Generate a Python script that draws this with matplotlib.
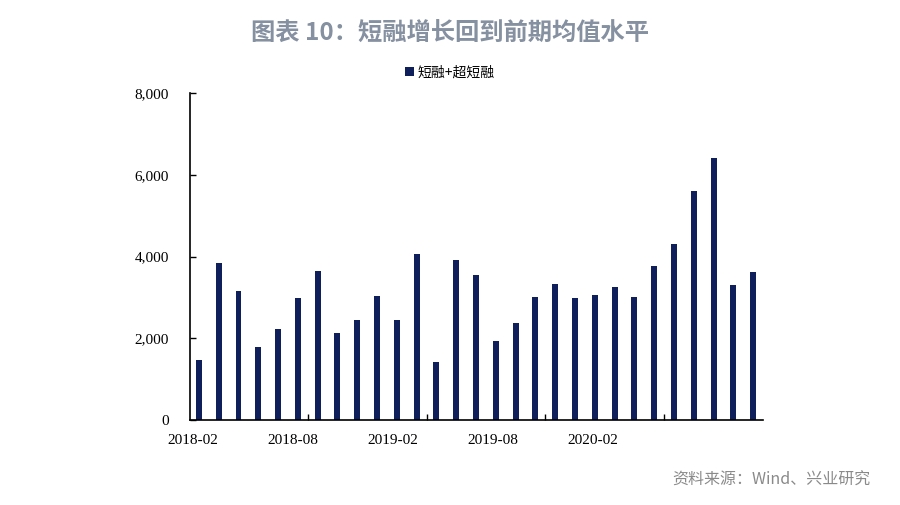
import matplotlib
matplotlib.use("Agg")
import matplotlib.pyplot as plt
import numpy as np

months = ["2018-02","2018-03","2018-04","2018-05","2018-06","2018-07","2018-08","2018-09",
          "2018-10","2018-11","2018-12","2019-01","2019-02","2019-03","2019-04","2019-05",
          "2019-06","2019-07","2019-08","2019-09","2019-10","2019-11","2019-12","2020-01",
          "2020-02","2020-03","2020-04","2020-05","2020-06"]
values = [1470, 3850, 3165, 1795, 2225, 2975, 3635, 2120, 2450, 3040, 2455, 4050, 1430, 3910,
          3545, 1940, 2380, 3000, 3325, 2990, 3050, 3260, 3015, 3780, 4310, 5600, 6415, 3300, 3610]
tick_labels = ["2018-02", "2018-08", "2019-02", "2019-08", "2020-02"]
series_name = "短融+超短融"
title = "图表 10：短融增长回到前期均值水平"
source = "资料来源：Wind、兴业研究"

bar_color = "#0e1f5c"

fig = plt.figure(figsize=(9, 5.05), dpi=100)
ax = fig.add_axes([0.2111, 0.1683, 0.6367, 0.6475])

x = np.arange(len(values))
ax.bar(x, values, width=0.3, color=bar_color, label=series_name, zorder=2)

ax.set_xlim(-0.45, len(values) - 0.5)
ax.set_ylim(0, 8000)
ax.set_yticks([0, 2000, 4000, 6000, 8000])
ax.set_yticklabels([f"{v:,}" for v in [0, 2000, 4000, 6000, 8000]],
                   fontfamily="Liberation Serif", fontsize=11)

# labels (Excel-style spacing) and minor tick marks at 6-month boundaries
label_pos = [-0.3 + 5.05 * k for k in range(len(tick_labels))]
ax.set_xticks(label_pos)
ax.set_xticklabels(tick_labels, fontfamily="Liberation Serif", fontsize=11)
ax.tick_params(axis="x", which="major", length=0, pad=10)
ax.set_xticks([5.5, 11.5, 17.5, 23.5], minor=True)
ax.tick_params(axis="x", which="minor", direction="in", length=4, width=1)
ax.tick_params(axis="y", direction="in", length=4, width=1, pad=15)

for s in ["top", "right"]:
    ax.spines[s].set_visible(False)
for s in ["left", "bottom"]:
    ax.spines[s].set_linewidth(1.2)
    ax.spines[s].set_color("black")

fig.text(0.5, 0.933, title, ha="center", va="center", fontsize=17.5, fontweight="bold",
         color="#8590a0", family=["Noto Sans CJK SC", "DejaVu Sans"])

leg = fig.legend(loc="center", bbox_to_anchor=(0.5, 0.857), frameon=False,
                 prop={"family": ["Noto Sans CJK SC", "DejaVu Sans"], "size": 10},
                 handlelength=0.6, handleheight=0.6, handletextpad=0.3)

fig.text(0.967, 0.05, source, ha="right", va="center", fontsize=11.5, color="#8a8a8a",
         family=["Noto Sans CJK SC", "DejaVu Sans"])

fig.savefig("out.png", dpi=100)
